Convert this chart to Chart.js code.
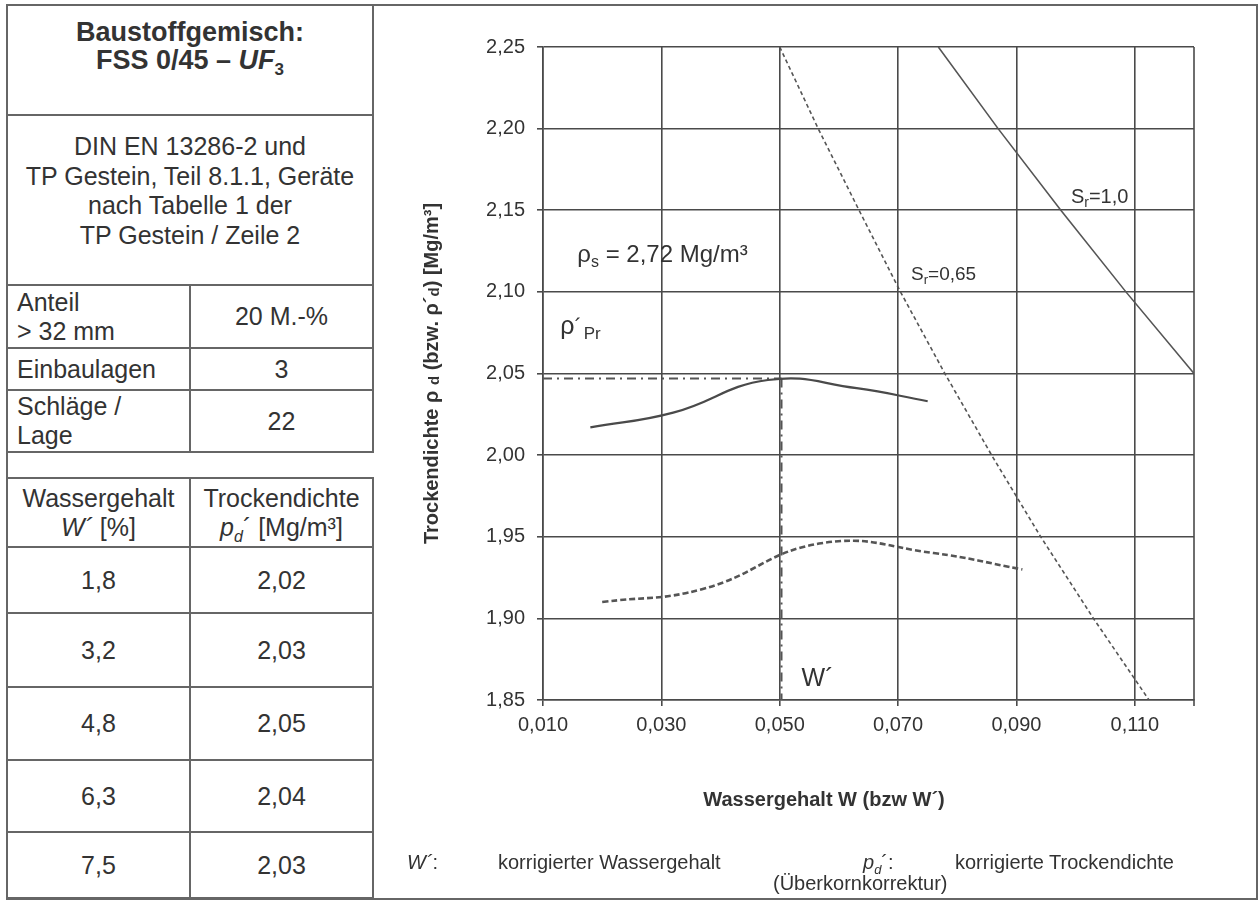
<!DOCTYPE html>
<html>
<head>
<meta charset="utf-8">
<script src="https://cdn.jsdelivr.net/npm/chart.js@4.4.1/dist/chart.umd.min.js"></script>
<style>
    html, body { margin: 0; padding: 0; background: #fff; }
    body {
        width: 1260px; height: 901px; position: relative; overflow: hidden;
        font-family: "Liberation Sans", Arial, sans-serif; color: #333;
    }
    .cell {
        position: absolute; box-sizing: border-box; border: 2px solid #666;
        display: flex; align-items: center; justify-content: center;
        text-align: center; font-size: 25px; line-height: 29px;
    }
    .cell.left { justify-content: flex-start; text-align: left; padding-left: 9px; }
    .cell.top { align-items: flex-start; }
    .head { font-weight: bold; font-size: 27px; line-height: 28px; padding-top: 12px; }
    .norm { line-height: 29.5px; padding-top: 16px; }
    sub { line-height: 0; }
    .note { position: absolute; font-size: 20px; line-height: 20px; white-space: nowrap; }
    #chartBox { position: absolute; left: 374px; top: 6px; width: 882px; height: 891px; }
</style>
</head>
<body>
<div class="cell" style="left:6px;top:4px;width:1252px;height:896px;"></div>
<div id="chartBox"><canvas id="proctorChart" width="882" height="891"></canvas></div>
<div class="note" style="left:407px;top:852px;"><i>W´</i>:</div>
<div class="note" style="left:498px;top:852px;">korrigierter Wassergehalt</div>
<div class="note" style="left:863px;top:852px;"><i>p<sub style="font-size:13px;">d</sub></i>´:</div>
<div class="note" style="left:955px;top:852px;">korrigierte Trockendichte</div>
<div class="note" style="left:773px;top:873px;">(Überkornkorrektur)</div>

<script>
// Versuchswerte (korrigiert, Überkornanteil 20 M.-%)
const wCorrPct = [1.8, 3.2, 4.8, 6.3, 7.5];             // W´ [%]
const rhoCorr = [2.017, 2.026, 2.046, 2.041, 2.033];    // ρd´ [Mg/m³]

// unkorrigierte Kurve
const wRaw = [0.020, 0.037, 0.057, 0.076, 0.091];
const rhoRaw = [1.910, 1.918, 1.946, 1.940, 1.930];

// Sättigungslinien
const rhoSr065 = [2.25, 2.20, 2.15, 2.10, 2.05, 2.00, 1.95, 1.90, 1.85];
const wSr065 = [0.0500, 0.0565, 0.0634, 0.0704, 0.0779, 0.0858, 0.0941, 0.1030, 0.1124];
const rhoSr100 = [2.25, 2.20, 2.15, 2.10, 2.05];
const wSr100 = [0.0768, 0.0869, 0.0975, 0.1085, 0.1200];

// Proctorpunkt
const wPr = 0.0503;
const rhoPr = 2.047;

const xTicks = [0.010, 0.030, 0.050, 0.070, 0.090, 0.110];
const yTicks = [1.85, 1.90, 1.95, 2.00, 2.05, 2.10, 2.15, 2.20, 2.25];

const specLabels = ['Anteil<br>&gt; 32 mm', 'Einbaulagen', 'Schläge /<br>Lage'];
const specValues = ['20 M.-%', '3', '22'];

const FONT = '"Liberation Sans", Arial, sans-serif';
const INK = '#333';
const LINE = '#4a4a4a';

const comma = (v, d) => v.toFixed(d).replace('.', ',');

// --- linke Tabelle ---
function cell(x0, y0, x1, y1, html, cls) {
    const d = document.createElement('div');
    d.className = 'cell ' + (cls || '');
    d.style.left = (x0 - 1) + 'px';
    d.style.top = (y0 - 1) + 'px';
    d.style.width = (x1 - x0 + 2) + 'px';
    d.style.height = (y1 - y0 + 2) + 'px';
    d.innerHTML = '<div>' + html + '</div>';
    document.body.appendChild(d);
}

const L = 7, M = 190, R = 373;
cell(L, 5, R, 115, 'Baustoffgemisch:<br>FSS 0/45 – <i>UF</i><sub style="font-size:17px;">3</sub>', 'top head');
cell(L, 115, R, 285, 'DIN EN 13286-2 und<br>TP Gestein, Teil 8.1.1, Geräte<br>nach Tabelle 1 der<br>TP Gestein / Zeile 2', 'top norm');

const specRows = [285, 348, 390, 452];
specLabels.forEach((t, i) => {
    cell(L, specRows[i], M, specRows[i + 1], t, 'left');
    cell(M, specRows[i], R, specRows[i + 1], specValues[i]);
});

const dataRows = [478, 547, 613, 687, 760, 832, 898];
cell(L, dataRows[0], M, dataRows[1], 'Wassergehalt<br><i>W´</i> [%]');
cell(M, dataRows[0], R, dataRows[1], 'Trockendichte<br><i>p<sub style="font-size:16px;">d</sub></i>´ [Mg/m³]');
wCorrPct.forEach((w, i) => {
    cell(L, dataRows[i + 1], M, dataRows[i + 2], comma(w, 1));
    cell(M, dataRows[i + 1], R, dataRows[i + 2], comma(rhoCorr[i], 2));
});

// --- Diagramm ---
const pts = (xs, ys) => xs.map((x, i) => ({ x: x, y: ys[i] }));

function richText(ctx, parts, px, py, align) {
    const fontOf = p => (p.style || '') + ' ' + p.s + 'px ' + FONT;
    let w = 0;
    parts.forEach(p => { ctx.font = fontOf(p); w += ctx.measureText(p.t).width; });
    let cx = align === 'center' ? px - w / 2 : px;
    parts.forEach(p => {
        ctx.font = fontOf(p);
        ctx.fillText(p.t, cx, py + (p.dy || 0));
        cx += ctx.measureText(p.t).width + (p.gap || 0);
    });
}

const annotations = {
    id: 'annotations',
    beforeDatasetsDraw(chart) {
        const { ctx, chartArea: a } = chart;
        ctx.save();
        ctx.strokeStyle = LINE;
        ctx.lineWidth = 1.6;
        ctx.beginPath();
        ctx.moveTo(a.right, a.top);
        ctx.lineTo(a.right, a.bottom + 6);
        ctx.stroke();
        ctx.restore();
    },
    afterDraw(chart) {
        const { ctx, chartArea: a, scales: { x, y } } = chart;
        ctx.save();
        ctx.fillStyle = INK;
        ctx.textBaseline = 'alphabetic';

        richText(ctx, [
            { t: 'ρ', s: 24 }, { t: 's', s: 16, dy: 5 }, { t: ' = 2,72 Mg/m³', s: 24 }
        ], x.getPixelForValue(0.0158), y.getPixelForValue(2.1183));

        richText(ctx, [
            { t: 'ρ', s: 25 }, { t: '´', s: 22, gap: 2 }, { t: 'Pr', s: 17, dy: 5 }
        ], x.getPixelForValue(0.0129), y.getPixelForValue(2.0740));

        richText(ctx, [
            { t: 'S', s: 19 }, { t: 'r', s: 13, dy: 4 }, { t: '=0,65', s: 19 }
        ], x.getPixelForValue(0.0722), y.getPixelForValue(2.1072));

        richText(ctx, [
            { t: 'S', s: 20 }, { t: 'r', s: 14, dy: 4 }, { t: '=1,0', s: 20 }
        ], x.getPixelForValue(0.0992), y.getPixelForValue(2.1544));

        richText(ctx, [{ t: 'W´', s: 25 }], x.getPixelForValue(0.0537), y.getPixelForValue(1.8585));

        // Achsentitel
        richText(ctx, [{ t: 'Wassergehalt W (bzw W´)', s: 20, style: 'bold' }],
            a.left + 281, a.bottom + 106, 'center');

        ctx.translate(a.left - 105, (a.top + a.bottom) / 2);
        ctx.rotate(-Math.PI / 2);
        richText(ctx, [
            { t: 'Trockendichte ρ ', s: 20, style: 'bold' },
            { t: 'd', s: 15, dy: 1, style: 'bold' },
            { t: ' (bzw. ρ´', s: 20, style: 'bold' },
            { t: 'd', s: 15, dy: 1, style: 'bold' },
            { t: ') [Mg/m³]', s: 20, style: 'bold' }
        ], 0, 0, 'center');
        ctx.restore();
    }
};

new Chart(document.getElementById('proctorChart'), {
    type: 'scatter',
    data: {
        datasets: [
            {
                data: pts(wCorrPct.map(w => w / 100), rhoCorr),
                showLine: true, tension: 0.45, borderColor: LINE, borderWidth: 2.2, pointRadius: 0
            },
            {
                data: pts(wRaw, rhoRaw),
                showLine: true, tension: 0.45, borderColor: '#555', borderWidth: 2.6,
                borderDash: [6, 3], pointRadius: 0
            },
            {
                data: pts(wSr065, rhoSr065),
                showLine: true, borderColor: '#555', borderWidth: 1.6, borderDash: [4, 3], pointRadius: 0
            },
            {
                data: pts(wSr100, rhoSr100),
                showLine: true, borderColor: '#555', borderWidth: 1.6, pointRadius: 0
            },
            {
                data: [{ x: 0.010, y: rhoPr }, { x: wPr, y: rhoPr }],
                showLine: true, borderColor: '#555', borderWidth: 2, borderDash: [9, 5, 2, 5], pointRadius: 0
            },
            {
                data: [{ x: wPr, y: rhoPr }, { x: wPr, y: 1.85 }],
                showLine: true, borderColor: '#555', borderWidth: 2, borderDash: [9, 5, 2, 5], pointRadius: 0
            }
        ]
    },
    options: {
        responsive: false,
        animation: false,
        devicePixelRatio: 1,
        layout: { padding: { top: 41, right: 62, left: 0, bottom: 0 } },
        plugins: { legend: { display: false }, tooltip: { enabled: false } },
        scales: {
            x: {
                type: 'linear', min: 0.010, max: 0.120,
                afterBuildTicks: s => { s.ticks = xTicks.map(v => ({ value: v })); },
                afterFit: s => { s.height = 197; },
                grid: { color: LINE, lineWidth: 1.6, tickLength: 6, tickColor: LINE },
                border: { color: LINE, width: 1.6 },
                ticks: {
                    color: INK, padding: 7, maxRotation: 0,
                    font: { family: FONT, size: 20 },
                    callback: v => comma(v, 3)
                }
            },
            y: {
                type: 'linear', min: 1.85, max: 2.25,
                afterBuildTicks: s => { s.ticks = yTicks.map(v => ({ value: v })); },
                afterFit: s => { s.width = 169; },
                grid: { color: LINE, lineWidth: 1.6, tickLength: 6, tickColor: LINE },
                border: { color: LINE, width: 1.6 },
                ticks: {
                    color: INK, padding: 12,
                    font: { family: FONT, size: 20 },
                    callback: v => comma(v, 2)
                }
            }
        }
    },
    plugins: [annotations]
});
</script>
</body>
</html>
